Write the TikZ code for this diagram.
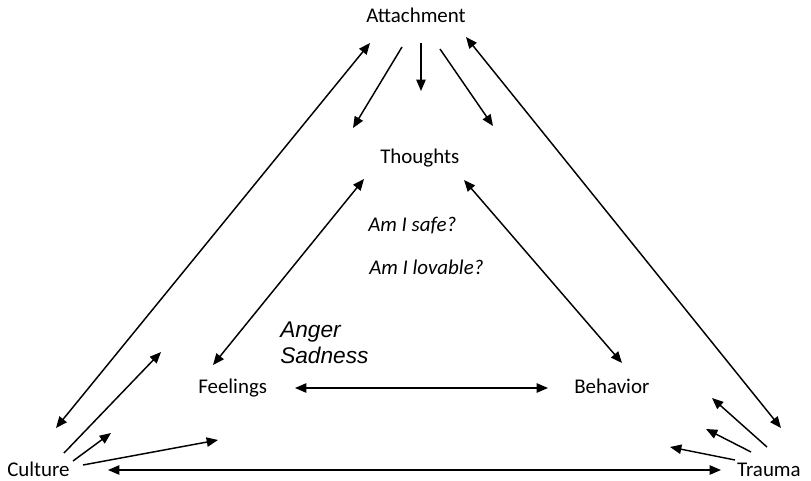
\documentclass[tikz,border=0pt]{standalone}
\usepackage{fontspec}
\setmainfont{Carlito}
\newfontfamily\arialfont{Liberation Sans}
\usetikzlibrary{arrows.meta}
\tikzset{
  lbl/.style={inner sep=0pt, anchor=base west, font=\fontsize{15.7}{19}\selectfont},
  qlbl/.style={lbl, font=\fontsize{15.7}{19}\selectfont\itshape},
  arr/.style={line width=1.1pt, -{Triangle[length=8.5pt,width=7pt]}},
  darr/.style={line width=1.1pt, {Triangle[length=8.5pt,width=7pt]}-{Triangle[length=8.5pt,width=7pt]}}
}
\begin{document}
\begin{tikzpicture}[x=0.75pt,y=-0.75pt]
\useasboundingbox (0,0) rectangle (811,481);
% labels
\node[lbl] (attach) at (366,23) {Attachment};
\node[lbl] (thoughts) at (380,164) {Thoughts};
\node[lbl] (feelings) at (198,393) {Feelings};
\node[lbl] (behavior) at (574,393) {Behavior};
\node[lbl] (culture) at (7,476) {Culture};
\node[lbl, anchor=base east] (trauma) at (801,476) {Trauma};
\node[qlbl] (safe) at (368,232) {Am I safe?};
\node[qlbl] (lovable) at (369,275) {Am I lovable?};
\node[inner sep=0pt, anchor=base west, font=\fontsize{17}{26}\selectfont\arialfont\itshape] (anger) at (280,337) {Anger};
\node[inner sep=0pt, anchor=base west, font=\fontsize{17}{26}\selectfont\arialfont\itshape] (sadness) at (280,363) {Sadness};
% endpoints
\coordinate (cA1) at (56,428);   \coordinate (aC1) at (370,43);
\coordinate (aT1) at (402,47);   \coordinate (tA1) at (353,128);
\coordinate (aT2) at (421,43);   \coordinate (tA2) at (421,91);
\coordinate (aT3) at (440,49);   \coordinate (tA3) at (493,126);
\coordinate (aR1) at (466,37);   \coordinate (rA1) at (781,428);
\coordinate (tF) at (364,179);   \coordinate (fT) at (213,365);
\coordinate (tB) at (464,180);   \coordinate (bT) at (622,363);
\coordinate (fB) at (295,388);   \coordinate (bF) at (548,388);
\coordinate (cR) at (108,470);   \coordinate (rC) at (721,470);
\coordinate (c1) at (64,453);    \coordinate (c1e) at (161,352);
\coordinate (c2) at (73,461);    \coordinate (c2e) at (111,433);
\coordinate (c3) at (83,465);    \coordinate (c3e) at (218,440);
\coordinate (r1) at (767,447);   \coordinate (r1e) at (712,398);
\coordinate (r2) at (751,452);   \coordinate (r2e) at (706,429);
\coordinate (r3) at (735,460);   \coordinate (r3e) at (670,447);
% connectors
\draw[darr] (cA1) -- (aC1);
\draw[arr] (aT1) -- (tA1);
\draw[arr] (aT2) -- (tA2);
\draw[arr] (aT3) -- (tA3);
\draw[darr] (aR1) -- (rA1);
\draw[darr] (tF) -- (fT);
\draw[darr] (tB) -- (bT);
\draw[darr] (fB) -- (bF);
\draw[darr] (cR) -- (rC);
\draw[arr] (c1) -- (c1e);
\draw[arr] (c2) -- (c2e);
\draw[arr] (c3) -- (c3e);
\draw[arr] (r1) -- (r1e);
\draw[arr] (r2) -- (r2e);
\draw[arr] (r3) -- (r3e);
\end{tikzpicture}
\end{document}
